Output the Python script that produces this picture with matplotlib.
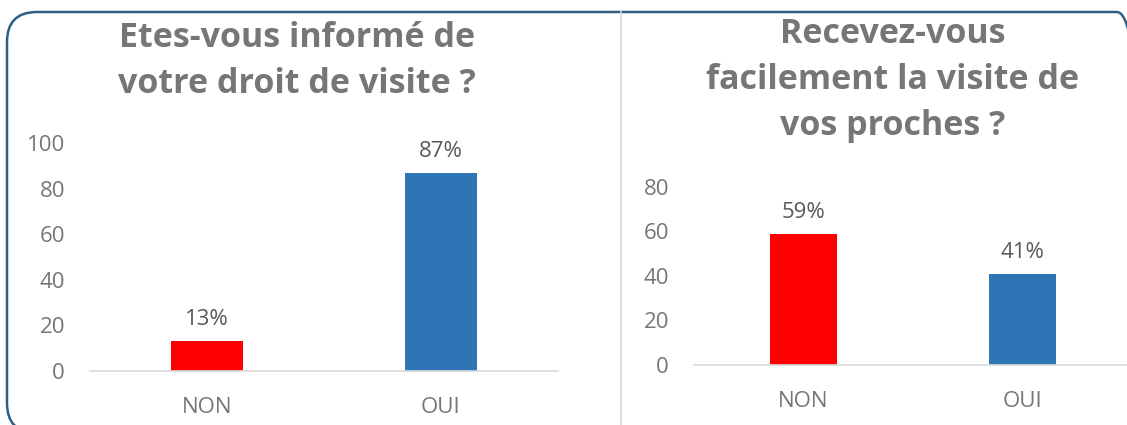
import matplotlib.pyplot as plt
from matplotlib.patches import FancyBboxPatch
from matplotlib.lines import Line2D
from matplotlib.transforms import IdentityTransform

# data
categories = ['NON', 'OUI']
informed_values = [13, 87]
visit_values = [59, 41]
bar_colors = ['#FF0000', '#2E75B6']

title_left = "Etes-vous informé de\nvotre droit de visite ?"
title_right = "Recevez-vous\nfacilement la visite de\nvos proches ?"

plt.rcParams['font.family'] = ['Open Sans', 'DejaVu Sans']
tick_gray = '#767676'
label_gray = '#595959'
title_gray = '#767676'

W, H = 1127, 425
fig = plt.figure(figsize=(W / 100, H / 100), dpi=100)


def px(x0, y_top, x1, y_bottom):
    # pixel box (image coords) -> figure fraction rect
    return [x0 / W, 1 - y_bottom / H, (x1 - x0) / W, (y_bottom - y_top) / H]


def draw_panel(ax, values, ymax):
    x = range(len(categories))
    bars = ax.bar(x, values, width=0.31, color=bar_colors)
    ax.set_xlim(-0.5, len(categories) - 0.5)
    ax.set_ylim(0, ymax)
    ax.set_yticks(range(0, ymax + 1, 20))
    ax.set_xticks(list(x))
    ax.set_xticklabels(categories)
    for s in ['top', 'right', 'left']:
        ax.spines[s].set_visible(False)
    ax.spines['bottom'].set_color('#D9D9D9')
    ax.spines['bottom'].set_linewidth(1.2)
    ax.tick_params(axis='both', length=0, labelsize=16, labelcolor=tick_gray)
    ax.tick_params(axis='x', pad=19)
    ax.tick_params(axis='y', pad=18)
    for b, v in zip(bars, values):
        ax.annotate(f"{v}%", (b.get_x() + b.get_width() / 2, v),
                    xytext=(0, 8), textcoords='offset points',
                    ha='center', va='bottom', fontsize=16, color=label_gray)


ax1 = fig.add_axes(px(90, 143, 558, 371))
draw_panel(ax1, informed_values, 100)
fig.text(297 / W, 1 - 61 / H, title_left, ha='center', va='center',
         fontsize=24.5, fontweight='bold', color=title_gray, linespacing=1.45)

ax2 = fig.add_axes(px(694, 187, 1132, 365))
draw_panel(ax2, visit_values, 80)
fig.text(893 / W, 1 - 80 / H, title_right, ha='center', va='center',
         fontsize=24.5, fontweight='bold', color=title_gray, linespacing=1.45)

# separator between the two charts
fig.add_artist(Line2D([621 / W, 621 / W], [0, 1 - 12 / H], color='#D9D9D9', lw=1.2))

# rounded frame around everything (right side runs just off the picture)
frame = FancyBboxPatch((7, -8), 1140, 421,
                       boxstyle="round,pad=0,rounding_size=30",
                       transform=IdentityTransform(), fill=False,
                       edgecolor='#2F5F84', linewidth=1.8)
fig.add_artist(frame)

fig.savefig('out.png', dpi=100)
